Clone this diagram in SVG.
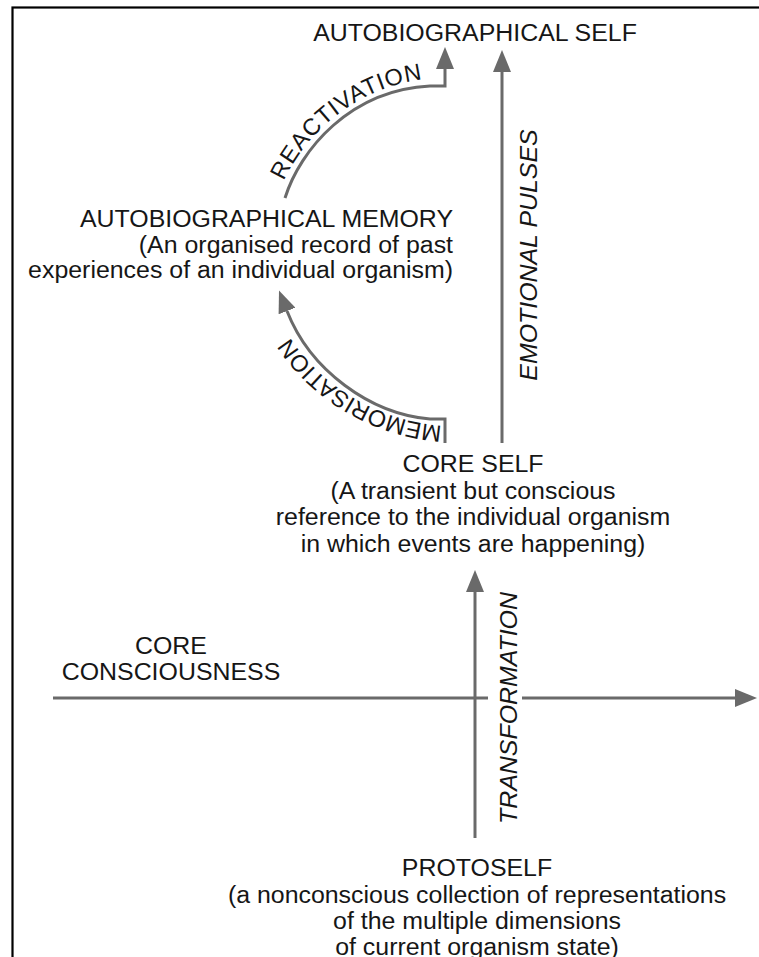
<svg xmlns="http://www.w3.org/2000/svg" width="759" height="957" viewBox="0 0 759 957">
<style>
.t{font-family:"Liberation Sans",Arial,Helvetica,sans-serif;font-size:23.5px;fill:#161616}
.c{text-anchor:middle}
.e{text-anchor:end}
.i{font-style:italic}
.ln{fill:none;stroke:#6a6a6a;stroke-width:3;stroke-linejoin:miter}
.arr{marker-end:url(#ah)}
</style>
<defs>
<marker id="ah" markerUnits="userSpaceOnUse" markerWidth="22" markerHeight="18" viewBox="0 0 22 18" refX="0" refY="9" orient="auto">
<path d="M0,0 L22,9 L0,18 z" fill="#6a6a6a"/>
</marker>
<path id="reactPath" d="M278,197 C292,148 350,81 440,78"/>
<path id="memPath" d="M446,426 C372,422 298,376 272,300"/>
</defs>
<rect x="0" y="0" width="759" height="957" fill="#ffffff"/>
<rect x="12.5" y="7.5" width="800" height="1000" fill="none" stroke="#000000" stroke-width="2.2"/>

<g id="connectors">
<path class="ln arr" d="M475,838 L475,592"/>
<path class="ln arr" d="M502,443 L502,72"/>
<path class="ln arr" d="M285,198 C300,150 350,90 430,86 L445,86 L445,69"/>
<path class="ln arr" d="M445,443 L445,419 L430,419 C370,414 310,370 287,311"/>
<path class="ln" d="M53,698 L488,698"/>
<path class="ln arr" d="M522,698 L735,698"/>
<text class="t" font-size="24.5" letter-spacing="0.8"><textPath href="#reactPath" startOffset="17">REACTIVATION</textPath></text>
<text class="t" font-size="24"><textPath href="#memPath" startOffset="4">MEMORISATION</textPath></text>
<text class="t c i" transform="translate(537,255) rotate(-90) scale(1.06,1)">EMOTIONAL PULSES</text>
<text class="t c i" transform="translate(517,708) rotate(-90) scale(1.06,1)">TRANSFORMATION</text>
</g>

<g id="autobiographical-self">
<text class="t c" transform="translate(475,41) scale(1.06,1)">AUTOBIOGRAPHICAL SELF</text>
</g>

<g id="autobiographical-memory">
<text class="t e" transform="translate(453,227) scale(1.06,1)">AUTOBIOGRAPHICAL MEMORY</text>
<text class="t e" transform="translate(453,252.5) scale(1.06,1)">(An organised record of past</text>
<text class="t e" transform="translate(453,278) scale(1.06,1)">experiences of an individual organism)</text>
</g>

<g id="core-self">
<text class="t c" transform="translate(473,472) scale(1.06,1)">CORE SELF</text>
<text class="t c" transform="translate(473,498.5) scale(1.06,1)">(A transient but conscious</text>
<text class="t c" transform="translate(473,525) scale(1.06,1)">reference to the individual organism</text>
<text class="t c" transform="translate(473,551.5) scale(1.06,1)">in which events are happening)</text>
</g>

<g id="core-consciousness">
<text class="t c" transform="translate(171,654) scale(1.06,1)">CORE</text>
<text class="t c" transform="translate(171,680) scale(1.06,1)">CONSCIOUSNESS</text>
</g>

<g id="protoself">
<text class="t c" transform="translate(477,876) scale(1.06,1)">PROTOSELF</text>
<text class="t c" transform="translate(477,902.5) scale(1.06,1)">(a nonconscious collection of representations</text>
<text class="t c" transform="translate(477,929) scale(1.06,1)">of the multiple dimensions</text>
<text class="t c" transform="translate(477,955) scale(1.06,1)">of current organism state)</text>
</g>
</svg>
